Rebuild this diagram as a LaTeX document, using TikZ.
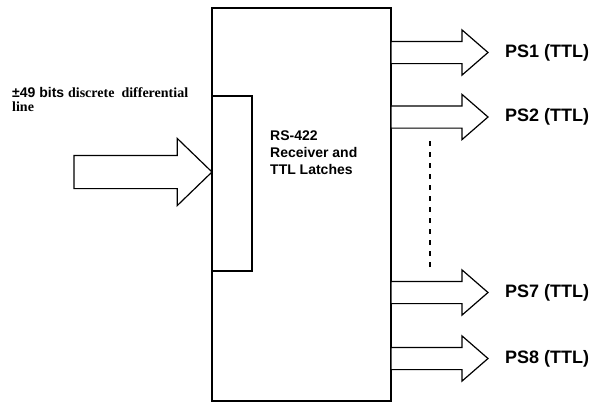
\documentclass[tikz,border=0pt]{standalone}
\usepackage{fontspec}
\setmainfont{Liberation Sans}
\newfontfamily\timesfont{Liberation Serif}
\usepackage{xcolor}
\usepackage{tikz}
\usetikzlibrary{arrows.meta,positioning,shapes.arrows}
\definecolor{inkline}{RGB}{0,0,0}
\tikzset{
  blockbox/.style={rectangle, draw=inkline, line width=1.2pt, fill=white,
                   inner sep=0pt, outer sep=0pt},
  fatarrow/.style={single arrow, draw=inkline, line width=1.2pt, fill=white,
                   inner xsep=0pt, outer sep=0pt, text height=0pt, text depth=0pt},
  outarrow/.style={fatarrow, inner ysep=10.5pt, minimum height=97pt,
                   single arrow head extend=11.5pt, single arrow tip angle=82},
  inarrow/.style={fatarrow, inner ysep=16pt, minimum height=138pt,
                  single arrow head extend=17pt, single arrow tip angle=88},
  pslbl/.style={font=\fontsize{18}{21}\selectfont\bfseries, inner sep=0pt, anchor=west},
  dashln/.style={draw=inkline, line width=1.2pt, dash pattern=on 5pt off 6pt},
}
\begin{document}
\begin{tikzpicture}[x=1pt, y=-1pt, node distance=17pt]
  \useasboundingbox (0,0) rectangle (594,402);
  \node[blockbox, minimum width=179pt, minimum height=393pt] (rx) at (301.5,204.5) {};
  \node[blockbox, minimum width=40pt, minimum height=175pt] (latch) at (232,183.5) {};
  \node[font=\fontsize{14}{17}\selectfont\bfseries, align=left, inner sep=0pt,
        anchor=north west] (rxlbl) at (270,131) {RS-422\\Receiver and\\TTL Latches};
  \node[inarrow, anchor=tip] (din) at (rx.west |- 0,172) {};
  \node[font=\fontsize{14}{13.5}\selectfont\bfseries, align=left, inner sep=0pt,
        anchor=north west] (dinlbl) at (12,87.5)
       {±49 bits {\timesfont discrete\ \ differential}\\{\timesfont line}};
  \node[outarrow, anchor=tail] (ps1) at (rx.east |- 0,52.5) {};
  \node[outarrow, anchor=tail] (ps2) at (rx.east |- 0,117) {};
  \node[outarrow, anchor=tail] (ps7) at (rx.east |- 0,292.5) {};
  \node[outarrow, anchor=tail] (ps8) at (rx.east |- 0,358.5) {};
  \node[pslbl, right=of ps1.tip] (ps1lbl) {PS1 (TTL)};
  \node[pslbl, right=of ps2.tip] (ps2lbl) {PS2 (TTL)};
  \node[pslbl, right=of ps7.tip] (ps7lbl) {PS7 (TTL)};
  \node[pslbl, right=of ps8.tip] (ps8lbl) {PS8 (TTL)};
  \coordinate (dtop) at (430,141);
  \coordinate (dbot) at (430,267);
  \draw[dashln] (dtop) -- (dbot);
\end{tikzpicture}
\end{document}
